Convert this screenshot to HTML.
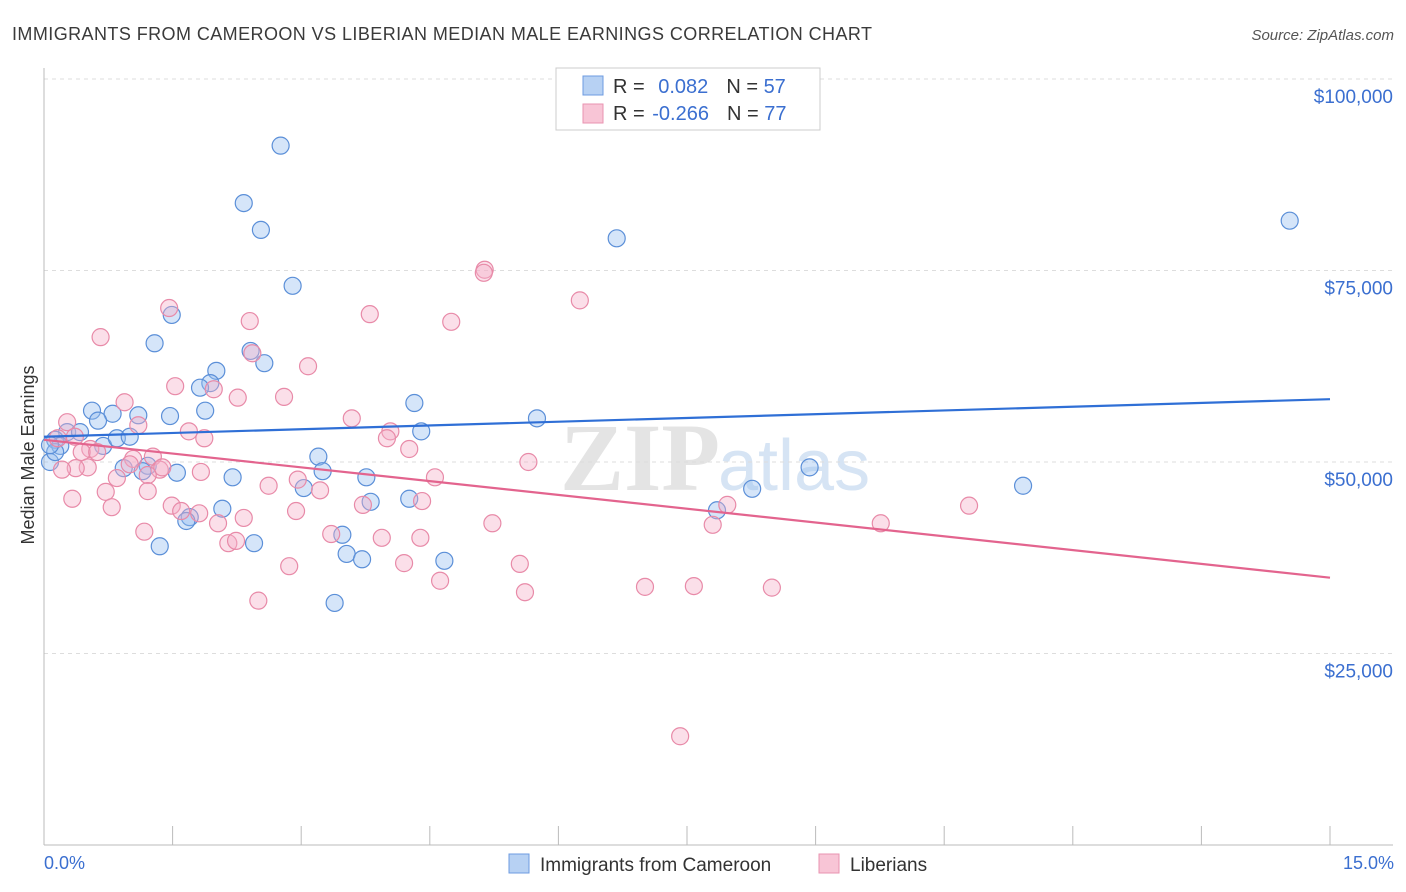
<!DOCTYPE html>
<html><head><meta charset="utf-8"><style>
body{margin:0;background:#fff;font-family:"Liberation Sans",sans-serif;}
#wrap{position:relative;width:1406px;height:892px;overflow:hidden;}
</style></head><body>
<div id="wrap">
<svg id="chart" width="1406" height="892" xmlns="http://www.w3.org/2000/svg">
<text x="12" y="40" font-size="18" fill="#3a3a3a" textLength="860">IMMIGRANTS FROM CAMEROON VS LIBERIAN MEDIAN MALE EARNINGS CORRELATION CHART</text>
<text x="1394" y="40" font-size="15" fill="#555" font-style="italic" text-anchor="end">Source: ZipAtlas.com</text>
<text x="720" y="490" font-size="96" fill="#e4e4e4" text-anchor="end" font-family="Liberation Serif" font-weight="bold">ZIP</text>
<text x="718" y="490" font-size="72" fill="#d6e4f4">atlas</text>
<g id="grid"></g>
<g id="axes"></g>
<g id="pts"></g>
<g id="lines"></g>
<text transform="translate(34,455) rotate(-90)" font-size="18" fill="#333" text-anchor="middle">Median Male Earnings</text>
<text x="44" y="869" font-size="18" fill="#3b6fd0">0.0%</text>
<text x="1394" y="869" font-size="18" fill="#3b6fd0" text-anchor="end">15.0%</text>
<g>
<rect x="556" y="68" width="264" height="62" fill="#fff" stroke="#ccc"/>
<rect x="583" y="76" width="20" height="19" fill="#b7d1f3" stroke="#6d9be0"/>
<rect x="583" y="104" width="20" height="19" fill="#f8c5d6" stroke="#e993b0"/>
<text x="613" y="93" font-size="20" fill="#333">R = <tspan fill="#3b6fd0" dx="8">0.082</tspan><tspan dx="18" fill="#333">N = </tspan><tspan fill="#3b6fd0">57</tspan></text>
<text x="613" y="120" font-size="20" fill="#333">R = <tspan fill="#3b6fd0" dx="2">-0.266</tspan><tspan dx="18" fill="#333">N = </tspan><tspan fill="#3b6fd0">77</tspan></text>
</g>
<g>
<rect x="509" y="854" width="20" height="19" fill="#b7d1f3" stroke="#6d9be0"/>
<text x="540" y="871" font-size="19" fill="#333">Immigrants from Cameroon</text>
<rect x="819" y="854" width="20" height="19" fill="#f8c5d6" stroke="#e993b0"/>
<text x="850" y="871" font-size="19" fill="#333">Liberians</text>
</g>
</svg>
</div>
<script>
const yTicks=[25000,50000,75000,100000];
const yTickLabels=["$25,000","$50,000","$75,000","$100,000"];
const xTicks=[0,1.5,3,4.5,6,7.5,9,10.5,12,13.5,15];
const blueX=[2.76,2.33,2.53,2.90,6.68,14.53,1.49,1.29,2.41,2.57,2.01,1.94,1.82,1.88,1.47,1.10,0.80,0.56,0.63,0.27,0.42,0.13,0.19,0.69,0.85,1.00,1.21,0.93,1.15,1.55,2.20,3.20,3.25,3.76,4.32,4.40,5.75,8.93,11.42,8.26,7.85,4.26,3.81,3.03,2.08,1.70,1.66,1.35,2.45,3.48,3.53,3.71,4.67,3.39,0.07,0.13,0.07];
const blueY=[91.3,83.8,80.3,73.0,79.2,81.5,69.2,65.5,64.5,62.9,61.9,60.3,59.7,56.7,56.0,56.1,56.3,56.7,55.4,53.9,53.9,52.9,52.1,52.1,53.1,53.3,49.5,49.2,48.8,48.6,48.0,50.7,48.8,48.0,57.7,54.0,55.7,49.3,46.9,46.5,43.7,45.2,44.8,46.6,43.9,42.8,42.3,39.0,39.4,40.5,38.0,37.3,37.1,31.6,50.0,51.3,52.2];
const pinkX=[5.14,5.13,6.25,1.46,3.80,4.75,2.40,0.66,2.43,3.08,1.53,1.98,2.26,2.80,0.94,0.27,1.10,1.69,1.87,3.59,4.04,4.00,4.26,0.54,0.44,0.62,0.16,0.36,1.04,1.27,1.35,1.38,1.21,1.00,0.51,0.37,0.21,0.85,1.83,5.65,4.56,2.96,3.22,2.62,1.21,0.72,0.79,0.33,1.49,1.60,1.81,2.33,2.94,3.72,4.41,2.03,5.23,7.97,7.80,9.76,10.79,1.17,2.15,2.24,3.35,3.94,4.39,4.20,5.55,2.86,4.62,5.61,7.01,7.58,8.49,2.50,7.42];
const pinkY=[75.1,74.7,71.1,70.1,69.3,68.3,68.4,66.3,64.2,62.5,59.9,59.5,58.4,58.5,57.8,55.2,54.8,54.0,53.1,55.7,54.0,53.1,51.7,51.7,51.3,51.3,53.1,53.3,50.4,50.7,49.0,49.3,48.3,49.7,49.3,49.2,49.0,47.9,48.7,50.0,48.0,47.7,46.3,46.9,46.2,46.1,44.1,45.2,44.3,43.6,43.3,42.7,43.6,44.4,44.9,42.0,42.0,44.4,41.8,42.0,44.3,40.9,39.4,39.7,40.6,40.1,40.1,36.8,36.7,36.4,34.5,33.0,33.7,33.8,33.6,31.9,14.2];
const blueTrend=[53.3,58.2];
const pinkTrend=[52.9,34.9];
const NS="http://www.w3.org/2000/svg";
const sx=v=>44+v/15*1286;
const sy=v=>845-v/100000*766;
function mk(tag,attrs,parent){const e=document.createElementNS(NS,tag);for(const k in attrs)e.setAttribute(k,attrs[k]);parent.appendChild(e);return e;}
const gridG=document.getElementById('grid'),axesG=document.getElementById('axes'),ptsG=document.getElementById('pts'),linesG=document.getElementById('lines');
yTicks.forEach((t,i)=>{
 const l=mk('line',{x1:44,x2:1393,y1:sy(t),y2:sy(t),stroke:'#ddd','stroke-dasharray':'4,4'},gridG);
 
 
 const tx=mk('text',{x:1393,y:sy(t)+24,'font-size':19,fill:'#3b6fd0','text-anchor':'end'},axesG);
 tx.textContent=yTickLabels[i];
 
 
});
const topGrid=mk('line',{x1:44,x2:1393,y1:79,y2:79,stroke:'#ddd','stroke-dasharray':'4,4'},gridG);


const ya=mk('line',{x1:44,x2:44,y1:68,y2:845,stroke:'#bbb'},axesG);


const xa=mk('line',{x1:44,x2:1393,y1:845,y2:845,stroke:'#bbb'},axesG);


xTicks.forEach(t=>{
 const l=mk('line',{x1:sx(t),x2:sx(t),y1:826,y2:845,stroke:'#bbb'},axesG);
 
 
});
blueX.forEach((x,i)=>{
 const c=mk('circle',{cx:sx(x),cy:sy(blueY[i]*1000),r:8.5,fill:'rgba(150,190,240,0.4)',stroke:'#5b8fd8','stroke-width':1.2},ptsG);
 
 
});
pinkX.forEach((x,i)=>{
 const c=mk('circle',{cx:sx(x),cy:sy(pinkY[i]*1000),r:8.5,fill:'rgba(245,175,200,0.4)',stroke:'#e88aa8','stroke-width':1.2},ptsG);
 
 
});
const bl=mk('line',{x1:sx(0),x2:sx(15),y1:sy(blueTrend[0]*1000),y2:sy(blueTrend[1]*1000),stroke:'#2f6fd6','stroke-width':2.2},linesG);


const pl=mk('line',{x1:sx(0),x2:sx(15),y1:sy(pinkTrend[0]*1000),y2:sy(pinkTrend[1]*1000),stroke:'#e3648e','stroke-width':2.2},linesG);


</script>
</body></html>
